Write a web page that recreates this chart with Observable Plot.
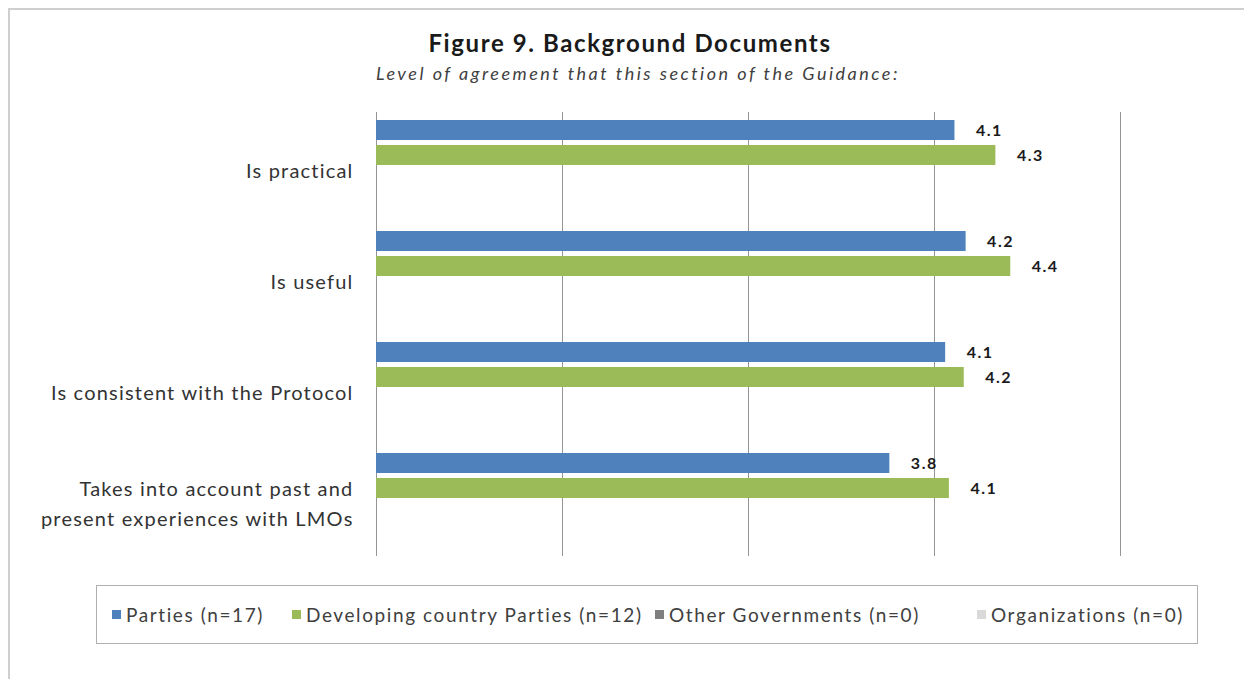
<!DOCTYPE html>
<html>
<head>
<meta charset="utf-8">
<script src="https://cdn.jsdelivr.net/npm/d3@7"></script>
<script src="https://cdn.jsdelivr.net/npm/@observablehq/plot@0.6"></script>
<style>
  html, body { margin: 0; padding: 0; background: #fff; }
  body { width: 1244px; height: 679px; position: relative; overflow: hidden; font-family: Lato, "Open Sans", sans-serif; }
  #frame { position: absolute; left: 8px; top: 8px; width: 1260px; height: 700px; border: 2px solid #cfcfcf; box-sizing: border-box; }
  #title { position: absolute; left: 0; width: 1260px; top: 28px; text-align: center; font-weight: bold; font-size: 24px; letter-spacing: 1.6px; color: #1a1a1a; }
  #subtitle { position: absolute; left: 0; width: 1276px; top: 62px; text-align: center; font-style: italic; font-size: 18px; letter-spacing: 2.5px; color: #404040; }
  #chart { position: absolute; left: 0; top: 100px; }
  #legend { position: absolute; left: 96px; top: 585px; width: 1102px; height: 59px; border: 1.5px solid #b0b0b0; box-sizing: border-box; display: flex; align-items: center; font-size: 19px; letter-spacing: 1.6px; color: #404040; }
  .item { position: absolute; display: flex; align-items: center; white-space: nowrap; }
  .sw { width: 9px; height: 9px; margin-right: 5px; }
</style>
</head>
<body>
<div id="frame"></div>
<div id="title">Figure 9. Background Documents</div>
<div id="subtitle">Level of agreement that this section of the Guidance:</div>
<div id="chart"></div>
<div id="legend"></div>
<script>
const categories = [
  "Is practical",
  "Is useful",
  "Is consistent with the Protocol",
  "Takes into account past and\npresent experiences with LMOs"
];
const seriesNames = [
  "Parties (n=17)",
  "Developing country Parties (n=12)",
  "Other Governments (n=0)",
  "Organizations (n=0)"
];
// values; labels show them rounded to one decimal
const parties    = [4.11, 4.17, 4.06, 3.76];
const developing = [4.33, 4.41, 4.16, 4.08];
const otherGov   = [null, null, null, null];
const orgs       = [null, null, null, null];
const colors = ["#4F81BD", "#9BBB59", "#7F7F7F", "#D9D9D9"];
const gridTicks = [1, 2, 3, 4, 5];

const seriesValues = [parties, developing, otherGov, orgs];
const rows = [];
categories.forEach((c, i) => {
  seriesNames.forEach((s, j) => {
    rows.push({category: c, series: s, value: seriesValues[j][i]});
  });
});
const valid = rows.filter(d => d.value != null);

const plot = Plot.plot({
  width: 1244,
  height: 460,
  marginLeft: 376,
  marginRight: 124,
  marginTop: 12,
  marginBottom: 4,
  style: {fontFamily: "Lato, sans-serif", background: "transparent"},
  x: {domain: [1, 5], axis: null},
  y: {domain: seriesNames, axis: null, paddingInner: 0.22, paddingOuter: 0.3},
  fy: {domain: categories, padding: 0, label: null, axis: null},
  color: {domain: seriesNames, range: colors},
  marks: [
    Plot.axisFy({anchor: "left", tickSize: 0, tickPadding: 23, fontSize: 20, lineHeight: 1.5, fill: "#333", label: null}),
    Plot.ruleX(gridTicks, {stroke: "#959595", strokeWidth: 1}),
    Plot.barX(valid, {fy: "category", y: "series", x1: 1, x2: "value", fill: d => d.series}),
    Plot.text(valid, {fy: "category", y: "series", x: "value", text: d => d.value.toFixed(1), textAnchor: "start", dx: 21, fontWeight: "bold", fontSize: 16, fill: "#1a1a1a"})
  ]
});
plot.querySelectorAll("g[aria-label='fy-axis tick label'] text, g[aria-label='fy-axis tick label']").forEach(el => el.style.letterSpacing = "1.2px");
plot.querySelectorAll("g[aria-label='text'] text, g[aria-label='text']").forEach(el => el.style.letterSpacing = "1.5px");
document.getElementById("chart").appendChild(plot);

const legend = document.getElementById("legend");
const itemLefts = [15, 195, 558, 880];
seriesNames.forEach((s, j) => {
  const it = document.createElement("div");
  it.className = "item";
  it.style.left = itemLefts[j] + "px";
  const sw = document.createElement("span");
  sw.className = "sw";
  sw.style.background = colors[j];
  const tx = document.createElement("span");
  tx.textContent = s;
  it.appendChild(sw);
  it.appendChild(tx);
  legend.appendChild(it);
});
</script>
</body>
</html>
